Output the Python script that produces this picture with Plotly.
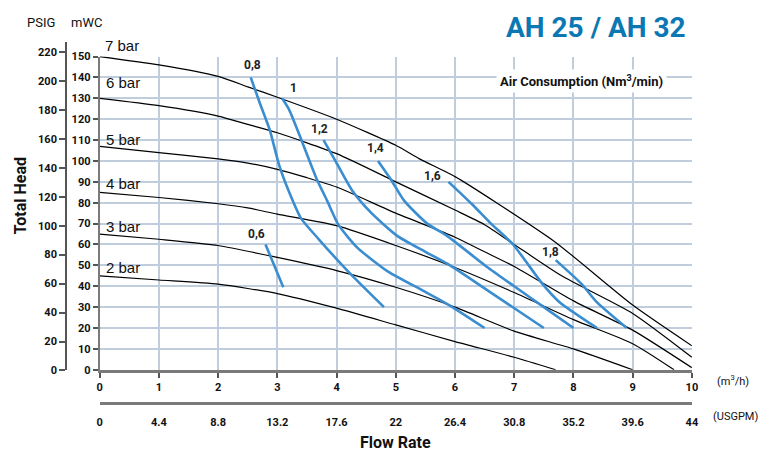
import plotly.graph_objects as go

# ---------------- data ----------------
bar_labels = ["7 bar", "6 bar", "5 bar", "4 bar", "3 bar", "2 bar"]
q7 = [0, 1, 2, 2.5, 3, 4, 5, 5.4, 6, 6.7, 7.7, 9, 10]
h7 = [150, 146, 140.5, 135.5, 130.5, 120, 107.5, 101, 92.5, 80, 61, 31, 11.5]
q6 = [0, 1, 2, 2.5, 3, 4, 5, 6, 6.5, 7, 7.8, 9, 10]
h6 = [130, 126.5, 121.5, 117.5, 113.5, 103.5, 90, 76.5, 69.5, 60, 45, 27, 6]
q5 = [0, 1, 2, 2.5, 3, 3.5, 4, 5, 6, 6.5, 7, 8, 9, 10]
h5 = [107, 104, 101, 99, 96, 92, 87.5, 75, 63.5, 56.5, 49.5, 33, 19, 1]
q4 = [0, 1, 2, 2.5, 3, 4, 5, 6, 7, 8, 9, 9.7]
h4 = [85, 82.5, 79.5, 77.5, 74.5, 69, 59.5, 49, 37, 24, 12.5, 0]
q3 = [0, 1, 2, 3, 4, 5, 6, 7, 8, 9]
h3 = [65, 62.5, 59.5, 53.8, 47.5, 39.5, 30, 18.5, 10, 0]
q2 = [0, 1, 2, 3, 4, 5, 6, 7, 7.7]
h2 = [45, 43, 41, 36.5, 29.5, 21.5, 13.5, 6, 0]

air_labels = ["0,6", "0,8", "1", "1,2", "1,4", "1,6", "1,8"]
a06_q = [2.8, 3.1]
a06_h = [60, 39.5]
a08_q = [2.55, 2.7, 2.87, 3.03, 3.2, 3.4, 3.7, 4.0, 4.3, 4.8]
a08_h = [140, 128, 115, 98, 85, 72.5, 62.5, 53, 44, 30]
a10_q = [3.08, 3.2, 3.42, 3.67, 3.84, 4.03, 4.35, 4.87, 5.42, 5.9, 6.5]
a10_h = [130, 124.5, 109, 91, 81, 69.5, 58.5, 47, 38.5, 31, 20]
a12_q = [3.78, 3.98, 4.26, 4.59, 5.03, 5.5, 5.87, 6.53, 7.5]
a12_h = [110, 100, 86, 75, 64, 56.5, 50.8, 38.4, 20]
a14_q = [4.7, 4.92, 5.14, 5.53, 5.87, 6.53, 7.0, 7.5, 8.0]
a14_h = [100, 91, 81, 70, 64, 49.5, 40, 30, 20]
a16_q = [5.89, 6.28, 6.59, 6.98, 7.48, 7.76, 8.4]
a16_h = [90, 79.5, 70.5, 60, 41, 32.5, 20]
a18_q = [7.7, 8.14, 8.39, 8.9]
a18_h = [52.5, 41, 32.5, 20]

# label anchor positions (data units)
bar_label_q = [0.05, 0.07, 0.07, 0.07, 0.07, 0.07]
bar_label_h = [155.5, 137.8, 110.4, 89, 68.5, 49]
air_label_q = [2.65, 2.58, 3.28, 3.72, 4.65, 5.62, 7.62]
air_label_h = [64.8, 146, 135, 115.5, 106, 92.6, 56.4]

x_ticks = list(range(0, 11))
usgpm_ticks = [0, 4.4, 8.8, 13.2, 17.6, 22, 26.4, 30.8, 35.2, 39.6, 44]
usgpm_text = ["0", "4.4", "8.8", "13.2", "17.6", "22", "26.4", "30.8", "35.2", "39.6", "44"]
mwc_ticks = list(range(0, 151, 10))
psig_ticks = list(range(0, 221, 20))

# ---------------- style ----------------
W, H = 765, 463
COND = "Roboto, Lato, sans-serif"
ARIAL = "Liberation Sans, Arial, sans-serif"
GRID = "#bfcddd"
BLUE = "#3a8dd0"
TITLE_BLUE = "#0b78b3"


def px(x):
    return x / W


def py(y):
    return 1 - y / H


x_dom = [px(98), px(698)]
y_dom = [py(374.3), py(52)]

fig = go.Figure()

for q, h in [(q7, h7), (q6, h6), (q5, h5), (q4, h4), (q3, h3), (q2, h2)]:
    fig.add_trace(go.Scatter(x=q, y=h, mode="lines",
                             line=dict(color="black", width=1.2, shape="spline", smoothing=0.6),
                             hoverinfo="skip", showlegend=False))

for q, h in [(a06_q, a06_h), (a08_q, a08_h), (a10_q, a10_h), (a12_q, a12_h),
             (a14_q, a14_h), (a16_q, a16_h), (a18_q, a18_h)]:
    fig.add_trace(go.Scatter(x=q, y=h, mode="lines",
                             line=dict(color=BLUE, width=2.6, shape="spline", smoothing=0.6),
                             hoverinfo="skip", showlegend=False))

# invisible trace so the secondary (USGPM / PSIG) axes are drawn
fig.add_trace(go.Scatter(x=[0], y=[0], xaxis="x2", yaxis="y2", mode="markers",
                         marker=dict(opacity=0), hoverinfo="skip", showlegend=False))

annotations = []
for t, q, h in zip(bar_labels, bar_label_q, bar_label_h):
    annotations.append(dict(x=x_dom[0] + (x_dom[1] - x_dom[0]) * q / 10,
                            y=y_dom[0] + (y_dom[1] - y_dom[0]) * h / 150,
                            xref="paper", yref="paper", text=t, showarrow=False,
                            xanchor="left", yanchor="middle",
                            font=dict(family=ARIAL, size=15, color="#111")))
for t, q, h in zip(air_labels, air_label_q, air_label_h):
    annotations.append(dict(x=q, y=h, xref="x", yref="y", text=t, showarrow=False,
                            xanchor="center", yanchor="middle",
                            font=dict(family=COND, size=12, color="#222", weight="bold")))

annotations += [
    dict(x=px(694), y=py(22), xref="paper", yref="paper", text="AH 25 / AH 32",
         showarrow=False, xanchor="right", yanchor="middle",
         font=dict(family=COND, size=28, color=TITLE_BLUE, weight="bold")),
    dict(x=px(586), y=py(77), xref="paper", yref="paper",
         text="Air Consumption (Nm<sup>3</sup>/min)", showarrow=False,
         xanchor="center", yanchor="middle", bgcolor="white", borderpad=3,
         font=dict(family=COND, size=13, color="#111", weight="bold")),
    dict(x=px(38), y=py(17), xref="paper", yref="paper", text="PSIG", showarrow=False,
         xanchor="center", yanchor="middle", font=dict(family=COND, size=13, color="#111")),
    dict(x=px(85), y=py(17), xref="paper", yref="paper", text="mWC", showarrow=False,
         xanchor="center", yanchor="middle", font=dict(family=COND, size=13, color="#111")),
    dict(x=px(18), y=py(195), xref="paper", yref="paper", text="Total Head", showarrow=False,
         textangle=-90, xanchor="center", yanchor="middle",
         font=dict(family=COND, size=16, color="#111", weight="bold")),
    dict(x=px(398), y=py(449), xref="paper", yref="paper", text="Flow Rate", showarrow=False,
         xanchor="center", yanchor="middle",
         font=dict(family=COND, size=16, color="#111", weight="bold")),
    dict(x=px(740), y=py(385), xref="paper", yref="paper", text="(m<sup>3</sup>/h)",
         showarrow=False, xanchor="center", yanchor="middle",
         font=dict(family=COND, size=11, color="#111")),
    dict(x=px(742), y=py(422), xref="paper", yref="paper", text="(USGPM)",
         showarrow=False, xanchor="center", yanchor="middle",
         font=dict(family=COND, size=11, color="#111")),
]

tickfont = dict(family=COND, size=11, color="#111", weight="bold")

fig.update_layout(
    width=W, height=H, autosize=False,
    margin=dict(l=0, r=0, t=0, b=0),
    paper_bgcolor="white", plot_bgcolor="rgba(0,0,0,0)",
    showlegend=False,
    annotations=annotations,
    xaxis=dict(domain=x_dom, range=[0, 10], tickvals=x_ticks, showgrid=True,
               gridcolor=GRID, gridwidth=1.5, zeroline=False,
               showline=True, linecolor="#7a7a7a", linewidth=3,
               ticks="outside", ticklen=5, tickcolor="#555", tickwidth=1.5,
               tickfont=tickfont, fixedrange=True),
    yaxis=dict(domain=y_dom, range=[0, 150], tickvals=mwc_ticks, showgrid=True,
               gridcolor=GRID, gridwidth=1.5, zeroline=False,
               showline=True, linecolor="#7a7a7a", linewidth=2,
               ticks="outside", ticklen=5, tickcolor="#555", tickwidth=1.5,
               tickfont=tickfont, fixedrange=True),
    xaxis2=dict(domain=x_dom, range=[0, 44], anchor="free", position=py(408),
                tickvals=usgpm_ticks, ticktext=usgpm_text, showgrid=False,
                zeroline=False, showline=True, linecolor="#7a7a7a", linewidth=3,
                ticks="", ticklabelstandoff=8, tickfont=tickfont, fixedrange=True),
    yaxis2=dict(domain=[py(375), py(37)], range=[0, (375 - 37) / 1.49], anchor="free",
                position=px(64), tickvals=psig_ticks, showgrid=False, zeroline=False,
                showline=True, linecolor="#555", linewidth=2,
                ticks="outside", ticklen=6, tickcolor="#555", tickwidth=1.5,
                tickfont=tickfont, fixedrange=True),
)

post = (
    "document.documentElement.style.margin='0';"
    "document.documentElement.style.overflow='hidden';"
    "document.body.style.margin='0';"
    "document.body.style.overflow='hidden';"
    "var d=document.getElementById('{plot_id}');"
    "d.style.position='absolute';d.style.left='0';d.style.top='0';"
)
fig.write_html("out.html", config={"displayModeBar": False}, post_script=post)
